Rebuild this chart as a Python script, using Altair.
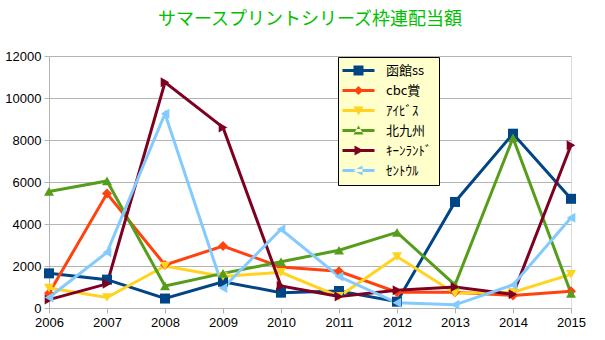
import altair as alt
import pandas as pd

years = [2006, 2007, 2008, 2009, 2010, 2011, 2012, 2013, 2014, 2015]
names = ["函館ss", "cbc賞", "ｱｲﾋﾞｽ", "北九州", "ｷｰﾝﾗﾝﾄﾞ", "ｾﾝﾄｳﾙ"]
hakodate = [1650, 1350, 450, 1250, 730, 810, 300, 5050, 8300, 5200]
cbc = [700, 5450, 2050, 2950, 1950, 1750, 750, 750, 600, 800]
ibis = [950, 500, 2000, 1500, 1700, 550, 2450, 700, 750, 1600]
kitakyushu = [5550, 6050, 1050, 1650, 2200, 2750, 3600, 1100, 8100, 700]
keeneland = [400, 1150, 10750, 8600, 1050, 550, 850, 1000, 650, 7750]
centaur = [500, 2650, 9250, 950, 3750, 1500, 250, 150, 1100, 4300]

colors = ["#004586", "#ff420e", "#ffd320", "#579d1c", "#7e0021", "#83caff"]
shapes = ["square", "diamond", "triangle-down", "triangle-up", "triangle-right", "triangle-left"]

line = "M-3.2,-0.3H3.2V0.3H-3.2Z "
legend_paths = [
    line + "M-1,-1H1V1H-1Z",
    line + "M0,-0.9L0.9,0L0,0.9L-0.9,0Z",
    line + "M-1,-0.8L1,-0.8L0,1Z",
    line + "M-1,0.8L1,0.8L0,-1Z",
    line + "M-0.8,-1L1,0L-0.8,1Z",
    line + "M0.8,-1L-1,0L0.8,1Z",
]

series = [hakodate, cbc, ibis, kitakyushu, keeneland, centaur]
rows = []
for n, vals in zip(names, series):
    for y, v in zip(years, vals):
        rows.append({"year": y, "value": v, "series": n})
df = pd.DataFrame(rows)

x = alt.X("year:Q", scale=alt.Scale(domain=[2006, 2015], nice=False, zero=False),
          axis=alt.Axis(values=years, format="d", title=None, grid=False,
                        tickSize=5, tickColor="#b3b3b3", domainColor="#b3b3b3",
                        labelFont="Liberation Sans", labelFontSize=13, labelColor="#000000",
                        labelPadding=3, labelFlush=False))
y = alt.Y("value:Q", scale=alt.Scale(domain=[0, 12000], nice=False),
          axis=alt.Axis(values=list(range(0, 12001, 2000)), format="d", title=None, grid=True,
                        gridColor="#b3b3b3", tickSize=5, tickColor="#b3b3b3",
                        domainColor="#b3b3b3", labelFont="Liberation Sans",
                        labelFontSize=13, labelColor="#000000", labelPadding=3))

cscale = alt.Scale(domain=names, range=colors)

lines = alt.Chart(df).mark_line(strokeWidth=3).encode(
    x=x, y=y,
    color=alt.Color("series:N", scale=cscale, legend=None),
    order=alt.Order("year:Q"),
)

points = alt.Chart(df).mark_point(filled=True, opacity=1, size=100).encode(
    x=x, y=y,
    color=alt.Color("series:N", scale=cscale, legend=None),
    shape=alt.Shape("series:N", scale=alt.Scale(domain=names, range=shapes), legend=None),
)

leg = alt.Legend(
    title=None, orient="none", legendX=289, legendY=1,
    fillColor="#ffffcc", strokeColor="#000000", padding=7,
    symbolSize=100, symbolOffset=7, symbolStrokeWidth=0, symbolOpacity=1,
    labelOffset=21, labelFont="Noto Sans CJK JP", labelFontSize=13,
    labelColor="#000000", rowPadding=6, symbolType="circle",
)

legend_layer = alt.Chart(df).mark_point(filled=True, opacity=0, size=100).encode(
    x=x, y=y,
    color=alt.Color("series:N", scale=cscale, legend=leg),
    shape=alt.Shape("series:N", scale=alt.Scale(domain=names, range=legend_paths), legend=leg),
)

chart = alt.layer(lines, points, legend_layer).resolve_scale(
    color="independent", shape="independent"
).properties(
    width=522, height=252,
    title=alt.TitleParams("サマースプリントシリーズ枠連配当額", color="#00c000",
                          font="Noto Sans CJK JP", fontSize=18, fontWeight="normal",
                          anchor="middle", offset=21),
    padding={"left": 49, "top": 56, "right": 34, "bottom": 32},
    autosize=alt.AutoSizeParams(type="none"),
).configure_view(stroke="#b3b3b3", strokeWidth=1).configure(background="#ffffff")

chart.save("out.html", embed_options={"renderer": "svg", "actions": False})
